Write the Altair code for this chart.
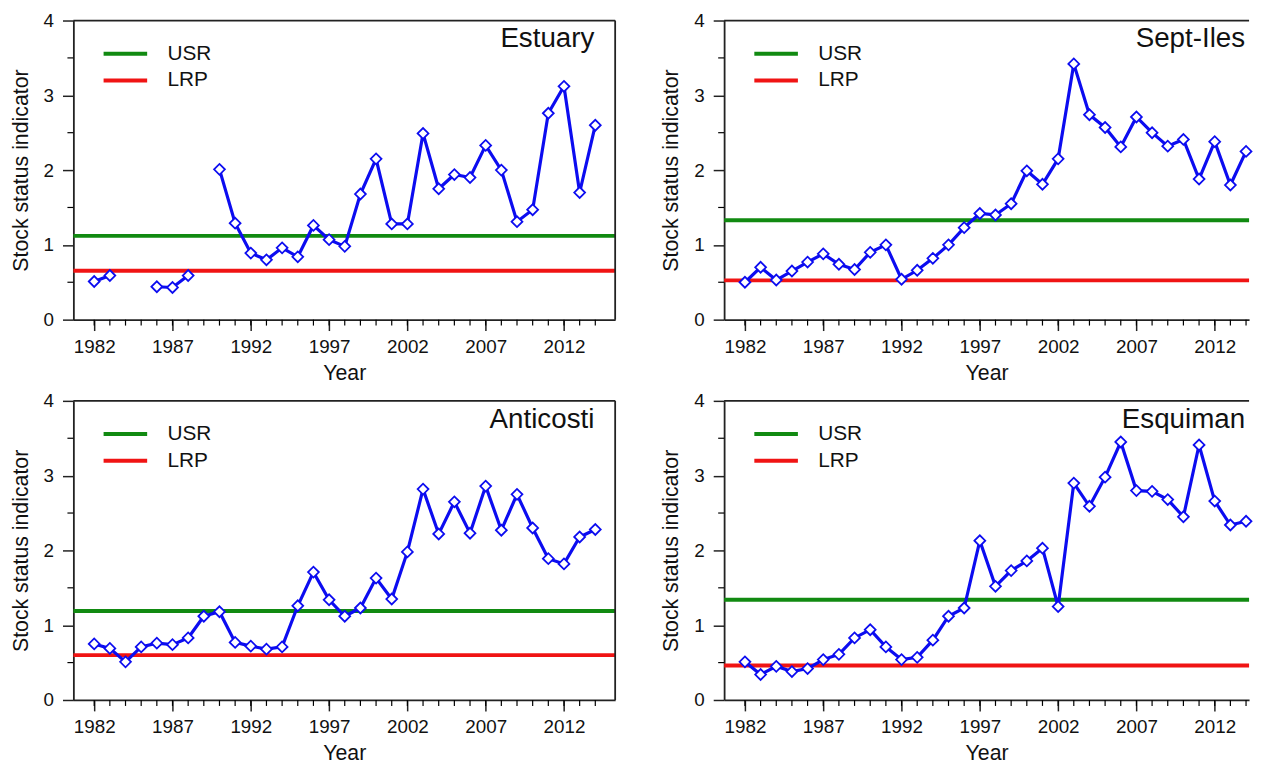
import altair as alt
import pandas as pd

# ---------------- data ----------------
years = list(range(1982, 2015))

estuary = [0.51, 0.59, None, None, 0.44, 0.43, 0.59, None, 2.01, 1.29,
           0.89, 0.80, 0.96, 0.84, 1.26, 1.07, 0.98, 1.68, 2.15, 1.28,
           1.28, 2.49, 1.75, 1.94, 1.90, 2.33, 2.00, 1.31, 1.47, 2.76,
           3.12, 1.70, 2.60]

sept_iles = [0.50, 0.70, 0.53, 0.65, 0.77, 0.88, 0.74, 0.67, 0.90, 1.00,
             0.54, 0.66, 0.82, 1.00, 1.23, 1.42, 1.40, 1.55, 1.99, 1.81,
             2.15, 3.42, 2.74, 2.57, 2.31, 2.71, 2.50, 2.32, 2.41, 1.88,
             2.38, 1.80, 2.25]

anticosti = [0.75, 0.69, 0.51, 0.71, 0.76, 0.74, 0.83, 1.12, 1.18, 0.77,
             0.72, 0.68, 0.71, 1.26, 1.71, 1.34, 1.12, 1.23, 1.63, 1.35,
             1.98, 2.82, 2.22, 2.65, 2.23, 2.86, 2.27, 2.75, 2.30, 1.89,
             1.82, 2.18, 2.28]

esquiman = [0.51, 0.34, 0.45, 0.38, 0.42, 0.54, 0.61, 0.83, 0.94, 0.71,
            0.54, 0.57, 0.80, 1.12, 1.23, 2.13, 1.52, 1.73, 1.86, 2.03,
            1.25, 2.90, 2.59, 2.98, 3.45, 2.80, 2.79, 2.68, 2.45, 3.41,
            2.66, 2.34, 2.39]

regions = ["Estuary", "Sept-Iles", "Anticosti", "Esquiman"]
usr_values = [1.12, 1.33, 1.19, 1.34]
lrp_values = [0.655, 0.525, 0.60, 0.46]
ref_levels = ["USR", "LRP"]

major_years = [1982, 1987, 1992, 1997, 2002, 2007, 2012]
minor_years = years
y_major = [0, 1, 2, 3, 4]
y_minor = [0.5, 1.5, 2.5, 3.5]

# ---------------- style ----------------
BLUE = "#0c0cf0"
GREEN = "#118a11"
RED = "#f01414"
FONT = "Liberation Sans"
PX_PER_YEAR = 15.81
X0 = 1980.67
FULL_W = 547
RIGHT_W = 530
H = 302


def panel(name, values, usr, lrp, width, right_border):
    xmax = X0 + width / PX_PER_YEAR
    xs = alt.Scale(domain=[X0, xmax], nice=False, zero=False)
    ys = alt.Scale(domain=[0, 4], nice=False, zero=False)

    seg, segs = 0, []
    for v in values:
        if v is None:
            seg += 1
        segs.append(seg)
    df = pd.DataFrame({"year": years, "value": values, "seg": segs})
    df = df.dropna()

    xaxis = alt.Axis(values=major_years, format="d", title="Year",
                     tickSize=11, labelPadding=7, titlePadding=6,
                     labelFontSize=19, titleFontSize=21.5)
    yaxis = alt.Axis(values=y_major, format="d",
                     title="Stock status indicator",
                     tickSize=11, labelPadding=9, titlePadding=11,
                     labelFontSize=19, titleFontSize=21.5)

    refs_df = pd.DataFrame({"level": ref_levels, "value": [usr, lrp]})
    refs = alt.Chart(refs_df).mark_rule(strokeWidth=4).encode(
        y=alt.Y("value:Q", scale=ys, axis=yaxis),
        color=alt.Color(
            "level:N",
            scale=alt.Scale(domain=ref_levels, range=[GREEN, RED]),
            legend=alt.Legend(
                title=None, orient="none", legendX=42, legendY=23,
                symbolType="M-3,0H3", symbolSize=215, symbolStrokeWidth=4,
                labelFontSize=21, labelOffset=32, rowPadding=5, padding=0,
                labelColor="#111", labelFont=FONT,
            ),
        ),
    )

    line = alt.Chart(df).mark_line(color=BLUE, strokeWidth=3.2).encode(
        x=alt.X("year:Q", scale=xs, axis=xaxis),
        y=alt.Y("value:Q", scale=ys),
        detail="seg:N",
    )
    pts = alt.Chart(df).mark_point(
        shape="diamond", filled=True, fill="white", stroke=BLUE,
        strokeWidth=1.8, size=120, opacity=1,
    ).encode(x=alt.X("year:Q", scale=xs), y=alt.Y("value:Q", scale=ys))

    xminor = alt.Chart(pd.DataFrame({"year": minor_years})).mark_rule(
        color="black", strokeWidth=1.2
    ).encode(x=alt.X("year:Q", scale=xs), y=alt.value(H), y2=alt.value(H + 6))
    yminor = alt.Chart(pd.DataFrame({"v": y_minor})).mark_rule(
        color="black", strokeWidth=1.2
    ).encode(y=alt.Y("v:Q", scale=ys), x=alt.value(0), x2=alt.value(-6))

    top = alt.Chart(pd.DataFrame({"v": [4]})).mark_rule(
        color="#222", strokeWidth=1.8
    ).encode(y=alt.Y("v:Q", scale=ys))

    title = alt.Chart(pd.DataFrame({"t": [name]})).mark_text(
        align="right", baseline="alphabetic", fontSize=28, font=FONT,
        color="#111",
    ).encode(x=alt.value(FULL_W - 21), y=alt.value(27), text="t:N")

    layers = [refs, line, pts, xminor, yminor, top, title]
    if right_border:
        rb = alt.Chart(pd.DataFrame({"v": [xmax]})).mark_rule(
            color="#222", strokeWidth=1.8
        ).encode(x=alt.X("v:Q", scale=xs))
        layers.append(rb)
    return alt.layer(*layers).properties(width=width, height=H)


p1 = panel(regions[0], estuary, usr_values[0], lrp_values[0], FULL_W, True)
p2 = panel(regions[1], sept_iles, usr_values[1], lrp_values[1], RIGHT_W, False)
p3 = panel(regions[2], anticosti, usr_values[2], lrp_values[2], FULL_W, True)
p4 = panel(regions[3], esquiman, usr_values[3], lrp_values[3], RIGHT_W, False)

row1 = alt.hconcat(p1, p2, spacing=44).resolve_scale(color="independent")
row2 = alt.hconcat(p3, p4, spacing=44).resolve_scale(color="independent")

chart = alt.vconcat(row1, row2, spacing=8).resolve_scale(
    color="independent"
).properties(
    padding={"left": 2, "top": 0, "right": 0, "bottom": -3}
).configure(
    font=FONT,
).configure_view(
    stroke=None
).configure_axis(
    grid=False, domainColor="#222", domainWidth=1.8, tickColor="#222",
    tickWidth=1.5, labelColor="#111", titleColor="#111",
    labelFont=FONT, titleFont=FONT, titleFontWeight="normal",
)

chart.save("out.html", embed_options={"renderer": "svg", "actions": False})
